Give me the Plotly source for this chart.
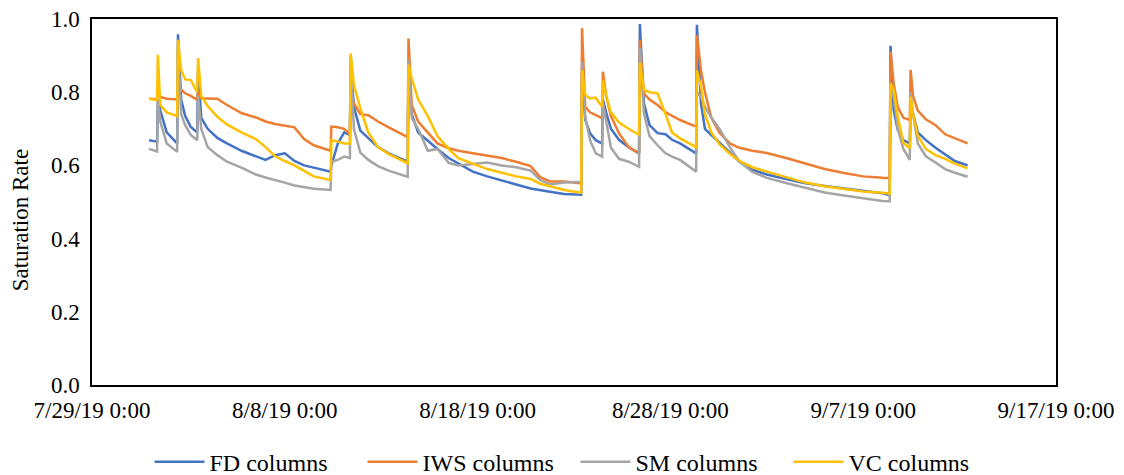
import plotly.graph_objects as go

times = [
    "2019-07-31 23:00", "2019-08-01 09:00", "2019-08-01 10:00", "2019-08-01 13:00", "2019-08-01 21:00",
    "2019-08-02 10:00", "2019-08-02 11:00", "2019-08-02 15:00", "2019-08-02 20:00", "2019-08-03 03:00",
    "2019-08-03 11:00", "2019-08-03 12:00", "2019-08-03 16:00", "2019-08-04 00:00", "2019-08-04 12:00",
    "2019-08-05 00:00", "2019-08-05 18:00", "2019-08-06 12:00", "2019-08-07 00:00", "2019-08-07 12:00",
    "2019-08-08 00:00", "2019-08-08 12:00", "2019-08-09 00:00", "2019-08-09 12:00", "2019-08-10 09:00",
    "2019-08-10 10:00", "2019-08-10 18:00", "2019-08-11 02:00", "2019-08-11 09:00", "2019-08-11 10:00",
    "2019-08-11 14:00", "2019-08-11 22:00", "2019-08-12 08:00", "2019-08-12 20:00", "2019-08-13 10:00",
    "2019-08-14 09:00", "2019-08-14 10:00", "2019-08-14 14:00", "2019-08-14 22:00", "2019-08-15 10:00",
    "2019-08-15 22:00", "2019-08-16 12:00", "2019-08-17 00:00", "2019-08-17 18:00", "2019-08-18 12:00",
    "2019-08-19 06:00", "2019-08-20 00:00", "2019-08-20 18:00", "2019-08-21 06:00", "2019-08-21 18:00",
    "2019-08-22 12:00", "2019-08-23 09:00", "2019-08-23 10:00", "2019-08-23 14:00", "2019-08-23 20:00",
    "2019-08-24 03:00", "2019-08-24 11:00", "2019-08-24 12:00", "2019-08-24 16:00", "2019-08-24 22:00",
    "2019-08-25 08:00", "2019-08-25 20:00", "2019-08-26 09:00", "2019-08-26 10:00", "2019-08-26 15:00",
    "2019-08-26 22:00", "2019-08-27 08:00", "2019-08-27 18:00", "2019-08-28 02:00", "2019-08-28 12:00",
    "2019-08-29 08:00", "2019-08-29 09:00", "2019-08-29 14:00", "2019-08-29 19:00", "2019-08-30 03:00",
    "2019-08-30 13:00", "2019-08-31 02:00", "2019-08-31 14:00", "2019-09-01 06:00", "2019-09-02 00:00",
    "2019-09-03 00:00", "2019-09-04 00:00", "2019-09-05 00:00", "2019-09-06 00:00", "2019-09-07 00:00",
    "2019-09-08 00:00", "2019-09-08 09:00", "2019-09-08 10:00", "2019-09-08 14:00", "2019-09-08 19:00",
    "2019-09-09 02:00", "2019-09-09 10:00", "2019-09-09 11:00", "2019-09-09 14:00", "2019-09-09 20:00",
    "2019-09-10 06:00", "2019-09-10 18:00", "2019-09-11 06:00", "2019-09-11 18:00", "2019-09-12 10:00",
]

fd_columns = [
    0.669, 0.665, 0.78, 0.75, 0.69, 0.66, 0.958, 0.78, 0.735, 0.705,
    0.69, 0.86, 0.73, 0.70, 0.675, 0.66, 0.64, 0.624, 0.615, 0.628,
    0.633, 0.612, 0.60, 0.594, 0.583, 0.60, 0.66, 0.69, 0.683, 0.88,
    0.76, 0.695, 0.675, 0.65, 0.632, 0.61, 0.87, 0.74, 0.69, 0.667,
    0.645, 0.62, 0.605, 0.583, 0.57, 0.56, 0.548, 0.537, 0.532, 0.528,
    0.522, 0.52, 0.86, 0.724, 0.688, 0.669, 0.66, 0.78, 0.745, 0.70,
    0.67, 0.65, 0.633, 0.986, 0.77, 0.71, 0.688, 0.685, 0.67, 0.66,
    0.633, 0.984, 0.77, 0.70, 0.683, 0.662, 0.637, 0.61, 0.588, 0.575,
    0.563, 0.551, 0.544, 0.537, 0.53, 0.524, 0.519, 0.927, 0.75, 0.697,
    0.669, 0.66, 0.78, 0.742, 0.69, 0.669, 0.648, 0.63, 0.612, 0.60,
]

iws_columns = [
    0.783, 0.78, 0.80, 0.787, 0.782, 0.78, 0.815, 0.806, 0.797, 0.79,
    0.779, 0.80, 0.783, 0.783, 0.782, 0.765, 0.743, 0.731, 0.72, 0.713,
    0.708, 0.704, 0.672, 0.655, 0.64, 0.706, 0.704, 0.70, 0.685, 0.80,
    0.77, 0.74, 0.737, 0.72, 0.703, 0.677, 0.947, 0.765, 0.72, 0.69,
    0.66, 0.647, 0.64, 0.633, 0.627, 0.62, 0.61, 0.598, 0.568, 0.556,
    0.556, 0.551, 0.975, 0.76, 0.745, 0.737, 0.729, 0.856, 0.79, 0.735,
    0.688, 0.65, 0.633, 0.943, 0.797, 0.78, 0.765, 0.745, 0.735, 0.724,
    0.706, 0.956, 0.86, 0.80, 0.73, 0.69, 0.66, 0.648, 0.64, 0.634,
    0.62, 0.606, 0.59, 0.579, 0.57, 0.566, 0.565, 0.911, 0.824, 0.76,
    0.73, 0.724, 0.861, 0.79, 0.75, 0.726, 0.71, 0.685, 0.675, 0.66,
]

sm_columns = [
    0.645, 0.638, 0.775, 0.72, 0.66, 0.637, 0.93, 0.74, 0.71, 0.683,
    0.669, 0.79, 0.70, 0.65, 0.628, 0.61, 0.594, 0.575, 0.567, 0.561,
    0.553, 0.545, 0.54, 0.536, 0.533, 0.61, 0.615, 0.624, 0.62, 0.90,
    0.70, 0.635, 0.615, 0.598, 0.585, 0.569, 0.89, 0.73, 0.70, 0.64,
    0.645, 0.607, 0.60, 0.605, 0.608, 0.60, 0.595, 0.586, 0.56, 0.548,
    0.553, 0.555, 0.883, 0.733, 0.669, 0.633, 0.624, 0.77, 0.72, 0.648,
    0.618, 0.61, 0.596, 0.92, 0.742, 0.68, 0.655, 0.633, 0.624, 0.615,
    0.583, 0.80, 0.788, 0.76, 0.73, 0.70, 0.65, 0.61, 0.582, 0.566,
    0.552, 0.538, 0.526, 0.518, 0.51, 0.503, 0.502, 0.82, 0.788, 0.70,
    0.645, 0.615, 0.80, 0.74, 0.66, 0.625, 0.608, 0.59, 0.58, 0.569,
]

vc_columns = [
    0.782, 0.778, 0.902, 0.765, 0.745, 0.735, 0.943, 0.86, 0.835, 0.833,
    0.80, 0.893, 0.79, 0.762, 0.733, 0.712, 0.69, 0.672, 0.65, 0.625,
    0.612, 0.60, 0.585, 0.57, 0.56, 0.669, 0.665, 0.66, 0.66, 0.906,
    0.82, 0.756, 0.69, 0.65, 0.63, 0.606, 0.875, 0.838, 0.78, 0.735,
    0.68, 0.645, 0.62, 0.605, 0.59, 0.58, 0.57, 0.563, 0.55, 0.543,
    0.533, 0.525, 0.86, 0.792, 0.783, 0.785, 0.76, 0.833, 0.79, 0.745,
    0.717, 0.70, 0.683, 0.88, 0.806, 0.80, 0.797, 0.74, 0.69, 0.674,
    0.65, 0.86, 0.815, 0.74, 0.69, 0.658, 0.632, 0.612, 0.595, 0.583,
    0.569, 0.553, 0.543, 0.535, 0.529, 0.525, 0.523, 0.825, 0.806, 0.733,
    0.662, 0.647, 0.788, 0.742, 0.68, 0.645, 0.628, 0.618, 0.605, 0.592,
]

series_names = ["FD columns", "IWS columns", "SM columns", "VC columns"]
series_values = [fd_columns, iws_columns, sm_columns, vc_columns]
series_colors = ["#4472C4", "#ED7D31", "#A5A5A5", "#FFC000"]

x_tick_dates = ["2019-07-29", "2019-08-08", "2019-08-18", "2019-08-28", "2019-09-07", "2019-09-17"]
x_tick_labels = ["7/29/19 0:00", "8/8/19 0:00", "8/18/19 0:00", "8/28/19 0:00", "9/7/19 0:00", "9/17/19 0:00"]
y_title = "Saturation Rate"

FONT = "Liberation Serif, Times New Roman, serif"
FS = 23

fig = go.Figure()
for name, vals, col in zip(series_names, series_values, series_colors):
    fig.add_trace(go.Scatter(x=times, y=vals, mode="lines", name=name,
                             line=dict(color=col, width=2.5)))

fig.add_annotation(text=y_title, textangle=-90, xref="paper", yref="paper",
                   x=-0.0747, y=0.45, xanchor="center", yanchor="middle",
                   showarrow=False, font=dict(family=FONT, size=FS, color="black"))

fig.update_layout(
    width=1124, height=475,
    margin=dict(l=92, r=68, t=19, b=90, autoexpand=False),
    paper_bgcolor="white", plot_bgcolor="white",
    font=dict(family=FONT, size=FS, color="black"),
    showlegend=True,
    legend=dict(orientation="h", xref="container", yref="container",
                x=0.512, xanchor="center", y=0.027, yanchor="middle",
                font=dict(family=FONT, size=24, color="black"),
                itemwidth=50, entrywidth=148, entrywidthmode="pixels",
                traceorder="normal"),
    xaxis=dict(type="date", range=["2019-07-29", "2019-09-17"],
               tickmode="array", tickvals=x_tick_dates, ticktext=x_tick_labels,
               showgrid=False, zeroline=False,
               showline=True, linecolor="black", linewidth=1.5, mirror=True,
               ticks="outside", ticklen=4, tickcolor="rgba(0,0,0,0)",
               tickfont=dict(family=FONT, size=FS, color="black")),
    yaxis=dict(range=[0, 1.0], dtick=0.2, tickformat=".1f",
               showgrid=False, zeroline=False,
               showline=True, linecolor="black", linewidth=1.5, mirror=True,
               ticks="outside", ticklen=6, tickcolor="rgba(0,0,0,0)",
               tickfont=dict(family=FONT, size=FS, color="black")),
)

fig.write_html("out.html")
